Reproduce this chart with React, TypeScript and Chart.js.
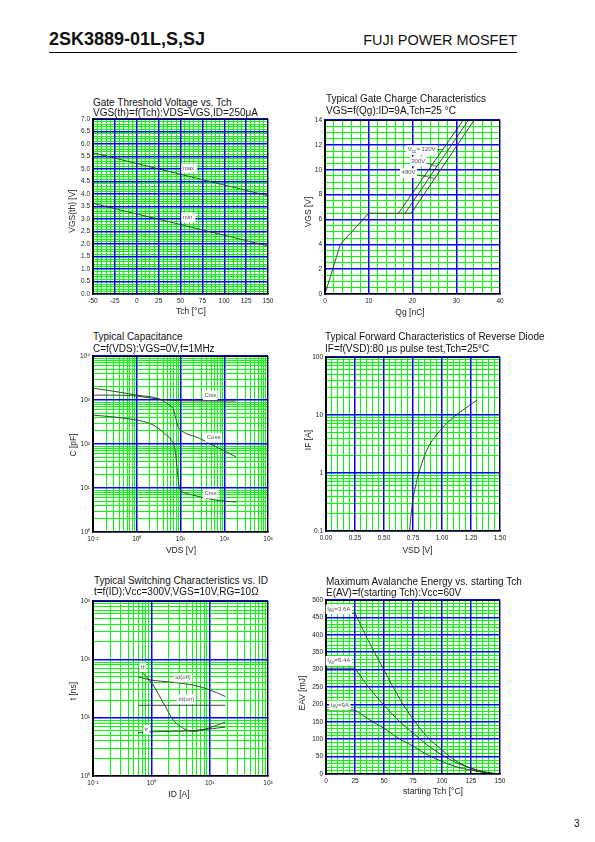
import { useEffect, useRef } from 'react';
import { Chart, registerables } from 'chart.js';

Chart.register(...registerables);

const FONT = "'Liberation Sans', Arial, Helvetica, sans-serif";
Chart.defaults.font.family = FONT;

const BLUE = '#0000ff';
const GREEN = '#00ff00';
const INK = '#2b2b2b';

/* ---------- 1. Gate threshold voltage vs Tch ---------- */
const tch1 = [-50, 0, 50, 100, 150];
const vthMax1 = [5.65, 5.22, 4.79, 4.36, 3.93];
const vthMin1 = [3.63, 3.2, 2.78, 2.35, 1.92];
const xLab1 = [-50, -25, 0, 25, 50, 75, 100, 125, 150];
const yLab1 = [0, 0.5, 1, 1.5, 2, 2.5, 3, 3.5, 4, 4.5, 5, 5.5, 6, 6.5, 7];

/* ---------- 2. Gate charge ---------- */
const qgBase2 = [0, 3.5, 10, 19.7];
const vgsBase2 = [0, 4.0, 6.5, 6.5];
const qgRise120 = [16.8, 31.6];
const qgRise300 = [18.3, 32.8];
const qgRise480 = [19.7, 34.1];
const vgsRise2 = [6.5, 14];
const xLab2 = [0, 10, 20, 30, 40];
const yLab2 = [0, 2, 4, 6, 8, 10, 12, 14];

/* ---------- 3. Capacitance ---------- */
const cissV = [0.1, 0.22, 1, 3.3, 10, 30, 100, 186];
const cissC = [1290, 1290, 1230, 1040, 960, 955, 950, 950];
const cossV = [0.1, 0.3, 1, 3.3, 6.1, 6.8, 7.8, 8.8, 9.3, 27.5, 39, 186];
const cossC = [1850, 1580, 1290, 1050, 710, 646, 382, 247, 226, 134, 112, 51];
const crssV = [0.1, 0.57, 1.95, 3.36, 4.3, 6.2, 7.4, 8.1, 8.8, 9.6, 13.7, 19, 65, 186];
const crssC = [455, 380, 295, 215, 174, 123, 79, 39, 16.5, 9.8, 7.5, 6.9, 5.3, 4.8];
const xLab3 = [0.1, 1, 10, 100, 1000];
const yLab3 = [1, 10, 100, 1000, 10000];

/* ---------- 4. Reverse diode forward characteristics ---------- */
const vsd4 = [0.72, 0.745, 0.78, 0.8, 0.85, 0.89, 0.95, 1.0, 1.1, 1.2, 1.3];
const if4 = [0.1, 0.3, 0.7, 1.0, 2.0, 3.0, 4.5, 5.9, 9.2, 13, 18];
const xLab4 = [0, 0.25, 0.5, 0.75, 1, 1.25, 1.5];
const yLab4 = [0.1, 1, 10, 100];

/* ---------- 5. Switching characteristics ---------- */
const idTdoff5 = [0.6, 1.0, 2.0, 5.3, 10, 18.6];
const tdoff5 = [50, 44, 41, 36, 30, 23];
const idTdon5 = [0.6, 18.6];
const tdon5 = [16.3, 16.3];
const idTf5 = [0.6, 1.03, 1.63, 2.4, 3.6, 5.3, 9.0, 18.6];
const tf5 = [69.5, 38.5, 17.5, 9.0, 6.5, 5.8, 6.5, 8.4];
const idTr5 = [0.6, 1.0, 5.3, 18.6];
const tr5 = [5.5, 5.7, 6.0, 6.9];
const xLab5 = [0.1, 1, 10, 100];
const yLab5 = [1, 10, 100, 1000];

/* ---------- 6. Avalanche energy ---------- */
const tchFlat6 = [0, 25];
const eav36Flat = [462, 462];
const eav54Flat = [304, 304];
const eav9Flat = [184, 184];
const tch6 = [25, 37, 50, 62, 75, 87, 100, 112, 125, 137, 150];
const eav36 = [462, 380, 299, 225, 158, 108, 69, 38, 16, 4, 0];
const eav54 = [304, 248, 198, 155, 118, 84, 55, 33, 17, 6, 0];
const eav9 = [184, 157, 131, 104, 80, 56, 36, 21, 11, 4, 0];
const xLab6 = [0, 25, 50, 75, 100, 125, 150];
const yLab6 = [0, 50, 100, 150, 200, 250, 300, 350, 400, 450, 500];

/* ---------- helpers ---------- */
type Axis = {
  type: 'linear' | 'logarithmic';
  min: number;
  max: number;
  grid: number[];
  major: number[];
  fmt: (v: number) => string;
};
type Note = { text: string; x: number; y: number; left?: boolean };
type Leader = { x1: number; y1: number; x2: number; y2: number };
type Rect = { l: number; t: number; w: number; h: number };
type Spec = { rect: Rect; x: Axis; y: Axis; datasets: any[]; notes: Note[]; leaders: Leader[] };

const PAD_L = 34;
const PAD_R = 14;
const PAD_T = 10;
const PAD_B = 20;

function linGrid(min: number, max: number, step: number): number[] {
  const out: number[] = [];
  const n = Math.round((max - min) / step);
  for (let i = 0; i <= n; i++) out.push(+(min + i * step).toFixed(6));
  return out;
}
function logGrid(e0: number, e1: number): number[] {
  const out: number[] = [];
  for (let e = e0; e < e1; e++) for (let m = 1; m < 10; m++) out.push(+(m * Math.pow(10, e)).toPrecision(6));
  out.push(+Math.pow(10, e1).toPrecision(6));
  return out;
}
function isIn(arr: number[], v: number) {
  return arr.some((a) => Math.abs(a - v) <= 1e-9 * Math.max(1, Math.abs(a)));
}
const SUP: Record<string, string> = { '-': '\u207B', '0': '\u2070', '1': '\u00B9', '2': '\u00B2', '3': '\u00B3', '4': '\u2074' };
const pow10 = (v: number) =>
  '10' + String(Math.round(Math.log10(v))).split('').map((c) => SUP[c]).join('');

function pts(xs: number[], ys: number[]) {
  return xs.map((x, i) => ({ x, y: ys[i] }));
}
function line(xs: number[], ys: number[], smooth: boolean) {
  return {
    data: pts(xs, ys),
    borderColor: INK,
    borderWidth: 0.9,
    pointRadius: 0,
    fill: false,
    tension: 0,
    cubicInterpolationMode: smooth ? 'monotone' : 'default',
    xAxisID: 'x',
    yAxisID: 'y',
  };
}

function mainScale(a: Axis, pos: 'bottom' | 'left', size: number) {
  return {
    type: a.type,
    position: pos,
    min: a.min,
    max: a.max,
    afterBuildTicks: (s: any) => {
      s.ticks = a.grid.map((v) => ({ value: v }));
    },
    afterFit: (s: any) => {
      if (pos === 'bottom') s.height = size;
      else s.width = size;
    },
    ticks: {
      autoSkip: false,
      maxRotation: 0,
      minRotation: 0,
      padding: 3,
      color: '#222',
      font: { family: FONT, size: 6.5 },
      callback: (v: any) => {
        const n = Number(v);
        return isIn(a.major, n) ? a.fmt(n) : '';
      },
    },
    grid: {
      drawTicks: false,
      z: -2,
      lineWidth: 1,
      color: (ctx: any) => (ctx.tick && isIn(a.major, ctx.tick.value) ? 'rgba(0,0,0,0)' : GREEN),
    },
    border: { display: true, color: '#000', width: 1.5 },
  };
}
function majorScale(a: Axis, pos: 'bottom' | 'left') {
  return {
    type: a.type,
    position: pos,
    min: a.min,
    max: a.max,
    afterBuildTicks: (s: any) => {
      s.ticks = a.major.map((v) => ({ value: v }));
    },
    afterFit: (s: any) => {
      if (pos === 'bottom') s.height = 0;
      else s.width = 0;
    },
    ticks: { display: false, autoSkip: false },
    grid: { drawTicks: false, z: -1, color: BLUE, lineWidth: 1.5 },
    border: { display: false },
  };
}

function splitSub(text: string) {
  const out: { t: string; sub: boolean }[] = [];
  const re = /_\{([^}]*)\}/g;
  let last = 0;
  let m: RegExpExecArray | null;
  while ((m = re.exec(text))) {
    if (m.index > last) out.push({ t: text.slice(last, m.index), sub: false });
    out.push({ t: m[1], sub: true });
    last = re.lastIndex;
  }
  if (last < text.length) out.push({ t: text.slice(last), sub: false });
  return out;
}

function overlayPlugin(notes: Note[], leaders: Leader[]) {
  return {
    id: 'overlay',
    afterDatasetsDraw(chart: any) {
      const { ctx, chartArea: a, scales } = chart;
      const xs = scales.x;
      const ys = scales.y;
      ctx.save();
      ctx.strokeStyle = '#000';
      ctx.lineWidth = 1;
      ctx.strokeRect(a.left + 0.5, a.top + 0.5, a.right - a.left - 1, a.bottom - a.top - 1);
      ctx.strokeStyle = INK;
      ctx.lineWidth = 0.7;
      leaders.forEach((l) => {
        ctx.beginPath();
        ctx.moveTo(xs.getPixelForValue(l.x1), ys.getPixelForValue(l.y1));
        ctx.lineTo(xs.getPixelForValue(l.x2), ys.getPixelForValue(l.y2));
        ctx.stroke();
      });
      const fs = 6;
      const sfs = 4.6;
      notes.forEach((n) => {
        const parts = splitSub(n.text);
        let w = 0;
        const widths = parts.map((p) => {
          ctx.font = `${p.sub ? sfs : fs}px ${FONT}`;
          const ww = ctx.measureText(p.t).width;
          w += ww;
          return ww;
        });
        const px = xs.getPixelForValue(n.x);
        const py = ys.getPixelForValue(n.y);
        const x0 = n.left ? px : px - w / 2;
        ctx.fillStyle = '#fff';
        ctx.fillRect(x0 - 1.5, py - fs / 2 - 1.5, w + 3, fs + 3.5);
        ctx.fillStyle = '#555';
        ctx.textBaseline = 'middle';
        ctx.textAlign = 'left';
        let cx = x0;
        parts.forEach((p, i) => {
          ctx.font = `${p.sub ? sfs : fs}px ${FONT}`;
          ctx.fillText(p.t, cx, p.sub ? py + 1.8 : py);
          cx += widths[i];
        });
      });
      ctx.restore();
    },
  };
}

function buildConfig(s: Spec): any {
  return {
    type: 'line',
    data: { datasets: s.datasets },
    options: {
      responsive: false,
      animation: false,
      devicePixelRatio: 1,
      events: [],
      layout: { autoPadding: false, padding: { left: 0, top: PAD_T, right: PAD_R, bottom: 0 } },
      plugins: { legend: { display: false }, tooltip: { enabled: false }, title: { display: false } },
      scales: {
        x: mainScale(s.x, 'bottom', PAD_B),
        y: mainScale(s.y, 'left', PAD_L),
        xb: majorScale(s.x, 'bottom'),
        yb: majorScale(s.y, 'left'),
      },
    },
    plugins: [overlayPlugin(s.notes, s.leaders)],
  };
}

/* ---------- chart specs ---------- */
const SPECS: Spec[] = [
  {
    rect: { l: 93, t: 119, w: 175, h: 175 },
    x: { type: 'linear', min: -50, max: 150, grid: linGrid(-50, 150, 5), major: xLab1, fmt: (v) => String(v) },
    y: { type: 'linear', min: 0, max: 7, grid: linGrid(0, 7, 0.1), major: yLab1, fmt: (v) => v.toFixed(1) },
    datasets: [line(tch1, vthMax1, false), line(tch1, vthMin1, false)],
    notes: [
      { text: 'max.', x: 60, y: 5.04 },
      { text: 'min.', x: 59, y: 3.07 },
    ],
    leaders: [],
  },
  {
    rect: { l: 325, t: 120, w: 175, h: 174 },
    x: { type: 'linear', min: 0, max: 40, grid: linGrid(0, 40, 2), major: xLab2, fmt: (v) => String(v) },
    y: { type: 'linear', min: 0, max: 14, grid: linGrid(0, 14, 0.5), major: yLab2, fmt: (v) => String(v) },
    datasets: [
      line(qgBase2, vgsBase2, false),
      line(qgRise120, vgsRise2, false),
      line(qgRise300, vgsRise2, false),
      line(qgRise480, vgsRise2, false),
    ],
    notes: [
      { text: 'V_{cc}= 120V', x: 22.1, y: 11.6 },
      { text: '300V', x: 21.3, y: 10.7 },
      { text: '480V', x: 19.1, y: 9.75 },
    ],
    leaders: [
      { x1: 25.4, y1: 11.6, x2: 26.9, y2: 11.65 },
      { x1: 22.8, y1: 10.62, x2: 25.6, y2: 10.25 },
      { x1: 20.7, y1: 9.62, x2: 25.1, y2: 9.3 },
    ],
  },
  {
    rect: { l: 93, t: 356, w: 175, h: 176 },
    x: { type: 'logarithmic', min: 0.1, max: 1000, grid: logGrid(-1, 3), major: xLab3, fmt: pow10 },
    y: { type: 'logarithmic', min: 1, max: 10000, grid: logGrid(0, 4), major: yLab3, fmt: pow10 },
    datasets: [line(cissV, cissC, true), line(cossV, cossC, true), line(crssV, crssC, true)],
    notes: [
      { text: 'Ciss', x: 48, y: 1300 },
      { text: 'Coss', x: 57, y: 141 },
      { text: 'Crss', x: 49, y: 7.5 },
    ],
    leaders: [],
  },
  {
    rect: { l: 326, t: 357, w: 174, h: 174 },
    x: { type: 'linear', min: 0, max: 1.5, grid: linGrid(0, 1.5, 0.05), major: xLab4, fmt: (v) => v.toFixed(2) },
    y: { type: 'logarithmic', min: 0.1, max: 100, grid: logGrid(-1, 2), major: yLab4, fmt: (v) => String(v) },
    datasets: [line(vsd4, if4, true)],
    notes: [],
    leaders: [],
  },
  {
    rect: { l: 93, t: 601, w: 175, h: 175 },
    x: { type: 'logarithmic', min: 0.1, max: 100, grid: logGrid(-1, 2), major: xLab5, fmt: pow10 },
    y: { type: 'logarithmic', min: 1, max: 1000, grid: logGrid(0, 3), major: yLab5, fmt: pow10 },
    datasets: [
      line(idTdoff5, tdoff5, true),
      line(idTdon5, tdon5, false),
      line(idTf5, tf5, true),
      line(idTr5, tr5, true),
    ],
    notes: [
      { text: 'td(off)', x: 3.5, y: 49 },
      { text: 'td(on)', x: 4.0, y: 21 },
      { text: 'tf', x: 0.71, y: 74 },
      { text: 'tr', x: 0.82, y: 6.25 },
    ],
    leaders: [],
  },
  {
    rect: { l: 326, t: 600, w: 174, h: 174 },
    x: { type: 'linear', min: 0, max: 150, grid: linGrid(0, 150, 5), major: xLab6, fmt: (v) => String(v) },
    y: { type: 'linear', min: 0, max: 500, grid: linGrid(0, 500, 10), major: yLab6, fmt: (v) => String(v) },
    datasets: [
      line(tchFlat6, eav36Flat, false),
      line(tchFlat6, eav54Flat, false),
      line(tchFlat6, eav9Flat, false),
      line(tch6, eav36, true),
      line(tch6, eav54, true),
      line(tch6, eav9, true),
    ],
    notes: [
      { text: 'I_{AV}=3.6A', x: 1, y: 474, left: true },
      { text: 'I_{AV}=5.4A', x: 1, y: 326, left: true },
      { text: 'I_{AV}=9A', x: 4, y: 198, left: true },
    ],
    leaders: [],
  },
];

/* ---------- page texts ---------- */
type TitleText = { x: number; base: number; text: string };
const TITLES: TitleText[] = [
  { x: 93, base: 106, text: 'Gate Threshold Voltage vs. Tch' },
  { x: 93, base: 116.5, text: 'VGS(th)=f(Tch):VDS=VGS,ID=250\u03BCA' },
  { x: 326, base: 102.5, text: 'Typical Gate Charge Characteristics' },
  { x: 326, base: 114.5, text: 'VGS=f(Qg):ID=9A,Tch=25 \u00B0C' },
  { x: 93, base: 340.5, text: 'Typical Capacitance' },
  { x: 93, base: 352.5, text: 'C=f(VDS):VGS=0V,f=1MHz' },
  { x: 325, base: 340.7, text: 'Typical Forward Characteristics of Reverse Diode' },
  { x: 325, base: 352.7, text: 'IF=f(VSD):80 \u03BCs pulse test,Tch=25\u00B0C' },
  { x: 94, base: 584, text: 'Typical Switching Characteristics vs. ID' },
  { x: 94, base: 595.5, text: 't=f(ID):Vcc=300V,VGS=10V,RG=10\u03A9' },
  { x: 326, base: 585, text: 'Maximum Avalanche Energy vs. starting Tch' },
  { x: 326, base: 596, text: 'E(AV)=f(starting Tch):Vcc=60V' },
];
type AxisText = { cx: number; base: number; text: string };
const XTITLES: AxisText[] = [
  { cx: 191, base: 314.5, text: 'Tch [\u00B0C]' },
  { cx: 410, base: 315, text: 'Qg [nC]' },
  { cx: 181, base: 553, text: 'VDS [V]' },
  { cx: 417.5, base: 553, text: 'VSD [V]' },
  { cx: 179, base: 797, text: 'ID [A]' },
  { cx: 433, base: 794, text: 'starting Tch [\u00B0C]' },
];
type YText = { cx: number; cy: number; text: string };
const YTITLES: YText[] = [
  { cx: 72, cy: 211, text: 'VGS(th) [V]' },
  { cx: 307.7, cy: 212, text: 'VGS [V]' },
  { cx: 73, cy: 445, text: 'C [pF]' },
  { cx: 307.8, cy: 439.5, text: 'IF [A]' },
  { cx: 73, cy: 691, text: 't [ns]' },
  { cx: 301.7, cy: 692.5, text: 'EAV [mJ]' },
];

const ASC = 0.8465;

function Plot({ spec }: { spec: Spec }) {
  const ref = useRef<HTMLCanvasElement>(null);
  useEffect(() => {
    if (!ref.current) return;
    const chart = new Chart(ref.current, buildConfig(spec));
    return () => chart.destroy();
  }, [spec]);
  const W = spec.rect.w + PAD_L + PAD_R;
  const H = spec.rect.h + PAD_T + PAD_B;
  return (
    <canvas
      ref={ref}
      width={W}
      height={H}
      style={{ position: 'absolute', left: spec.rect.l - PAD_L, top: spec.rect.t - PAD_T, width: W, height: H }}
    />
  );
}

export default function App() {
  const abs = { position: 'absolute' as const, whiteSpace: 'nowrap' as const };
  return (
    <div
      style={{
        position: 'absolute',
        left: 0,
        top: 0,
        width: 595,
        height: 842,
        background: '#fff',
        overflow: 'hidden',
        fontFamily: FONT,
        color: '#111',
      }}
    >
      <div style={{ ...abs, left: 49, top: 45 - 18 * ASC, fontSize: 18, lineHeight: '18px', fontWeight: 700 }}>
        2SK3889-01L,S,SJ
      </div>
      <div
        style={{
          ...abs,
          left: 517,
          top: 45 - 14.5 * ASC,
          fontSize: 14.5,
          lineHeight: '14.5px',
          transform: 'translateX(-100%)',
        }}
      >
        FUJI POWER MOSFET
      </div>
      <div style={{ position: 'absolute', left: 49, top: 51.5, width: 468, height: 1.8, background: '#000' }} />

      {SPECS.map((s, i) => (
        <Plot key={i} spec={s} />
      ))}

      {TITLES.map((t, i) => (
        <div key={'t' + i} style={{ ...abs, left: t.x, top: t.base - 10 * ASC, fontSize: 10, lineHeight: '10px' }}>
          {t.text}
        </div>
      ))}
      {XTITLES.map((t, i) => (
        <div
          key={'x' + i}
          style={{
            ...abs,
            left: t.cx,
            top: t.base - 8.5 * ASC,
            fontSize: 8.5,
            lineHeight: '8.5px',
            transform: 'translateX(-50%)',
            color: '#222',
          }}
        >
          {t.text}
        </div>
      ))}
      {YTITLES.map((t, i) => (
        <div
          key={'y' + i}
          style={{
            ...abs,
            left: t.cx,
            top: t.cy,
            fontSize: 8.5,
            lineHeight: '8.5px',
            transform: 'translate(-50%, -50%) rotate(-90deg)',
            color: '#222',
          }}
        >
          {t.text}
        </div>
      ))}
      <div style={{ ...abs, left: 574, top: 827 - 10 * ASC, fontSize: 10, lineHeight: '10px' }}>3</div>
    </div>
  );
}
